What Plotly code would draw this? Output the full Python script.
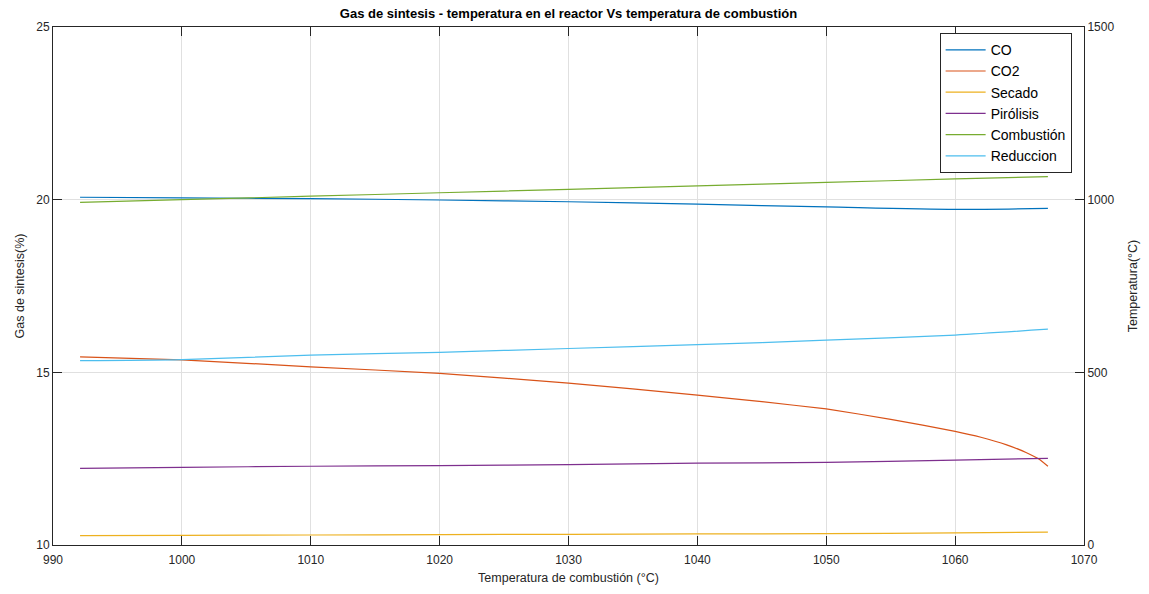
import plotly.graph_objects as go

# Temperatura de combustión (°C) sampled along the run
temp_comb = [992.1, 1000, 1010, 1020, 1030, 1040, 1050, 1060, 1067.2]
temp_comb_co2 = [992.1, 1000, 1010, 1020, 1030, 1040, 1045, 1050, 1055, 1060, 1062, 1064,
                 1065.5, 1066.5, 1067.2]

# Gas de síntesis (%) – left axis
co = [20.07, 20.05, 20.03, 19.99, 19.94, 19.87, 19.79, 19.72, 19.75]
co2 = [15.45, 15.36, 15.16, 14.97, 14.69, 14.34, 14.15, 13.94, 13.64, 13.29, 13.12, 12.90,
       12.68, 12.49, 12.28]

# Zone temperatures (°C) – right axis
secado = [27, 28, 29, 30, 31, 32, 33, 35, 37]
pirolisis = [222, 225, 228, 230, 233, 237, 239, 246, 251]
combustion = [992, 1000, 1010, 1020, 1030, 1040, 1050, 1060, 1067]
reduccion = [534, 537, 550, 558, 569, 580, 593, 608, 625]

colors = {
    "CO": "#0072BD",
    "CO2": "#D95319",
    "Secado": "#EDB120",
    "Pirólisis": "#7E2F8E",
    "Combustión": "#77AC30",
    "Reduccion": "#4DBEEE",
}

ink = "#262626"
grid = "#e0e0e0"
font_family = "Liberation Sans, Arial, sans-serif"


def line(color, smoothing=0.8):
    return dict(color=color, width=1.2, shape="spline", smoothing=smoothing)


fig = go.Figure()
fig.add_trace(go.Scatter(x=temp_comb, y=co, name="CO", mode="lines", line=line(colors["CO"])))
fig.add_trace(go.Scatter(x=temp_comb_co2, y=co2, name="CO2", mode="lines",
                         line=line(colors["CO2"], 0.4)))
fig.add_trace(go.Scatter(x=temp_comb, y=secado, name="Secado", mode="lines", yaxis="y2",
                         line=line(colors["Secado"])))
fig.add_trace(go.Scatter(x=temp_comb, y=pirolisis, name="Pirólisis", mode="lines", yaxis="y2",
                         line=line(colors["Pirólisis"])))
fig.add_trace(go.Scatter(x=temp_comb, y=combustion, name="Combustión", mode="lines", yaxis="y2",
                         line=line(colors["Combustión"])))
fig.add_trace(go.Scatter(x=temp_comb, y=reduccion, name="Reduccion", mode="lines", yaxis="y2",
                         line=line(colors["Reduccion"])))

axis_common = dict(showline=True, linecolor=ink, linewidth=1, ticks="inside", ticklen=9,
                   tickcolor=ink, zeroline=False)

fig.update_layout(
    width=1149, height=594,
    margin=dict(l=53, r=61, t=27, b=48),
    paper_bgcolor="white", plot_bgcolor="white",
    font=dict(family=font_family, size=12, color=ink),
    title=dict(text="<b>Gas de sintesis - temperatura en el reactor Vs temperatura de combustión</b>",
               x=0.5, xref="paper", xanchor="center", y=1, yref="container", yanchor="top",
               pad=dict(t=9), font=dict(size=13, color="black")),
    xaxis=dict(range=[990, 1070], dtick=10, tick0=990, showgrid=True, gridcolor=grid,
               ticklabelstandoff=4,
               title=dict(text="Temperatura de combustión (°C)", standoff=6, font=dict(size=12.5)),
               **axis_common),
    # top edge of the box with its own inward ticks
    xaxis2=dict(range=[990, 1070], dtick=10, tick0=990, overlaying="x", side="top",
                showticklabels=False, showgrid=False, **axis_common),
    yaxis=dict(range=[10, 25], tickvals=[10, 15, 20, 25], showgrid=True, gridcolor=grid,
               title=dict(text="Gas de sintesis(%)", standoff=8, font=dict(size=12.5)),
               **axis_common),
    yaxis2=dict(range=[0, 1500], tickvals=[0, 500, 1000, 1500], overlaying="y", side="right",
                showgrid=False,
                title=dict(text="Temperatura(°C)", standoff=14, font=dict(size=12.5)),
                **axis_common),
    legend=dict(x=0.988, y=0.988, xanchor="right", yanchor="top",
                bgcolor="white", bordercolor=ink, borderwidth=1,
                font=dict(size=14, color="black"), tracegroupgap=0,
                itemwidth=40),
    showlegend=True,
)

# invisible trace so the top axis is drawn
fig.add_trace(go.Scatter(x=[990, 1070], y=[None, None], xaxis="x2", showlegend=False,
                         hoverinfo="skip", mode="lines"))

fig.write_html("out.html")
